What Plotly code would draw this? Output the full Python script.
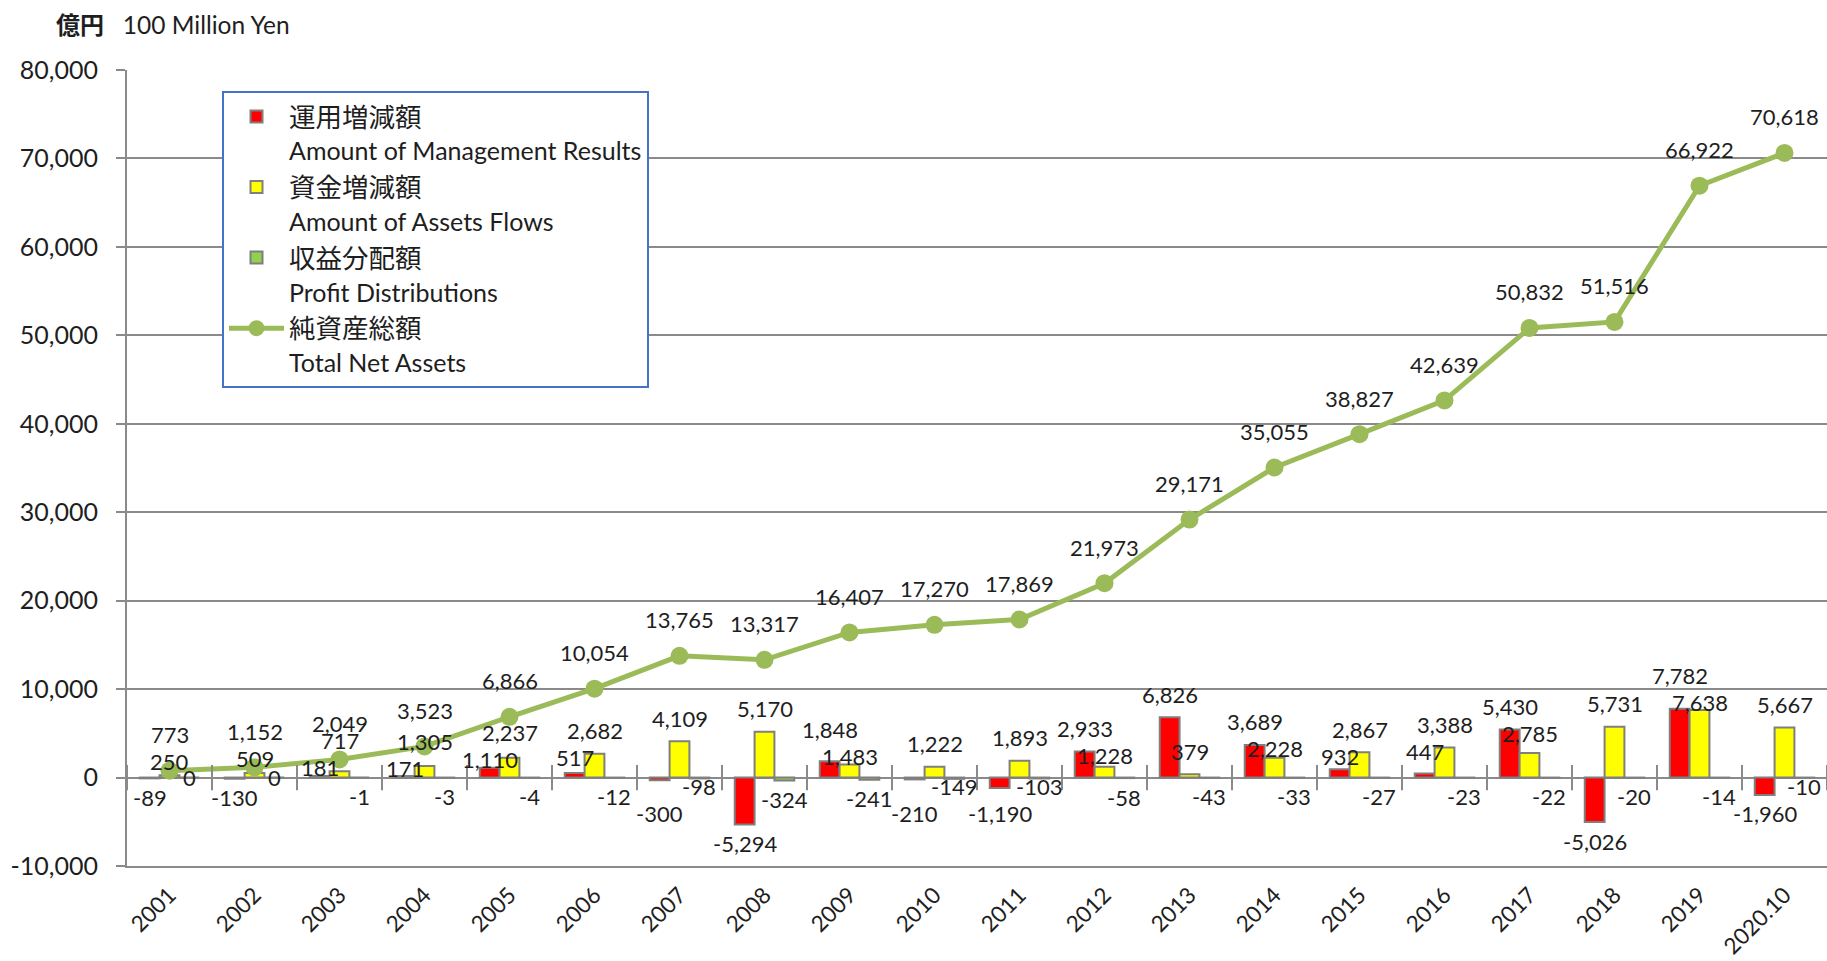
import plotly.graph_objects as go

categories = ["2001", "2002", "2003", "2004", "2005", "2006", "2007", "2008", "2009", "2010",
              "2011", "2012", "2013", "2014", "2015", "2016", "2017", "2018", "2019", "2020.10"]
mgmt_results = [-89, -130, 181, 171, 1110, 517, -300, -5294, 1848, -210,
                -1190, 2933, 6826, 3689, 932, 447, 5430, -5026, 7782, -1960]
asset_flows = [250, 509, 717, 1305, 2237, 2682, 4109, 5170, 1483, 1222,
               1893, 1228, 379, 2228, 2867, 3388, 2785, 5731, 7638, 5667]
profit_dist = [0, 0, -1, -3, -4, -12, -98, -324, -241, -149,
               -103, -58, -43, -33, -27, -23, -22, -20, -14, -10]
total_net_assets = [773, 1152, 2049, 3523, 6866, 10054, 13765, 13317, 16407, 17270,
                    17869, 21973, 29171, 35055, 38827, 42639, 50832, 51516, 66922, 70618]

names_ja = ["運用増減額", "資金増減額", "収益分配額", "純資産総額"]
names_en = ["Amount of Management Results", "Amount of Assets Flows", "Profit Distributions", "Total Net Assets"]

y_ticks = [-10000, 0, 10000, 20000, 30000, 40000, 50000, 60000, 70000, 80000]
y_tick_text = ["-10,000", "0", "10,000", "20,000", "30,000", "40,000", "50,000", "60,000", "70,000", "80,000"]

W, H = 1827, 961
ML, MR, MT, MB = 127, 0, 70, 95
BARGAP = 0.3
GRID = "#8a8a8a"
TXT = "#1e1e1e"
FONT = "Lato, Noto Sans CJK JP, sans-serif"
LABEL_SIZE = 22

bar_colors = ["#FF0000", "#FFFF00", "#92D050"]
line_color = "#9BBB59"

def leg(i):
    return (f"<span style='font-size:26.5px'>{names_ja[i]}</span><br>"
            f"<span style='font-size:25px'>{names_en[i]}</span>")

fig = go.Figure()
bar_series = [mgmt_results, asset_flows, profit_dist]
for i, vals in enumerate(bar_series):
    fig.add_trace(go.Bar(
        x=categories, y=vals, name=leg(i),
        marker=dict(color=bar_colors[i], line=dict(color="#7f7f7f", width=2)),
        hoverinfo="skip",
    ))

fig.add_trace(go.Scatter(
    x=categories, y=total_net_assets, name=leg(3), mode="lines+markers",
    line=dict(color=line_color, width=5),
    marker=dict(color=line_color, size=18),
    hoverinfo="skip",
))

# cross tick marks on the zero line at category boundaries
n = len(categories)
bounds = [k - 0.5 for k in range(n + 1)]
fig.add_trace(go.Scatter(
    x=bounds, y=[0] * len(bounds), xaxis="x2", yaxis="y", mode="markers",
    marker=dict(symbol="line-ns-open", size=18, line=dict(color=GRID, width=2), color=GRID),
    showlegend=False, hoverinfo="skip", cliponaxis=False,
))

# ---- data labels (outside end, nudged apart when they collide) ----
plot_w = W - ML - MR
plot_h = H - MT - MB
px_per_unit = plot_h / (y_ticks[-1] - y_ticks[0])
cat_px = plot_w / n
bar_px = cat_px * (1 - BARGAP) / 3
GAP_POS, GAP_NEG, MIN_GAP, TH, LINE_GAP = 23, 19, 8, 27, 36

def text_w(s):
    return len(s) * LABEL_SIZE * 0.52

annotations = []
for k in range(n):
    labels = []
    for i, vals in enumerate(bar_series):
        v = vals[k]
        end = abs(v) * px_per_unit
        sign = 1 if v > 0 else (-1 if v < 0 else 0)
        dist = end + (GAP_POS if sign > 0 else GAP_NEG) if sign != 0 else 0
        labels.append(dict(v=v, s=f"{v:,}", sign=sign, end=end, dist=dist, dx=(i - 1) * bar_px))
    # keep bar labels under the net-asset label of the same year
    t = total_net_assets[k]
    t_dist = t * px_per_unit + LINE_GAP
    t_s = f"{t:,}"
    for l in labels:
        if l["sign"] > 0 and abs(l["dx"]) < (text_w(l["s"]) + text_w(t_s)) / 2:
            need = TH - (t_dist - l["dist"])
            if need > 0:
                l["dist"] = max(l["end"] + MIN_GAP, l["dist"] - need)
    for sign in (1, -1):
        grp = [l for l in labels if l["sign"] == sign]
        grp.sort(key=lambda l: l["end"])
        for a_i in range(len(grp)):
            for b_i in range(a_i + 1, len(grp)):
                lo, hi = grp[a_i], grp[b_i]
                if abs(lo["dx"] - hi["dx"]) >= (text_w(lo["s"]) + text_w(hi["s"])) / 2:
                    continue
                need = TH - (hi["dist"] - lo["dist"])
                if need > 0:
                    room = lo["dist"] - (lo["end"] + MIN_GAP)
                    mv = max(0, min(need, room))
                    lo["dist"] -= mv
                    hi["dist"] += need - mv
    for l in labels:
        annotations.append(dict(
            x=k, y=l["v"], xref="x2", yref="y", text=l["s"], showarrow=False,
            xshift=l["dx"], yshift=l["sign"] * (l["dist"] - l["end"]),
            yanchor="middle", xanchor="center",
            font=dict(family=FONT, size=LABEL_SIZE, color=TXT),
        ))
    annotations.append(dict(
        x=k, y=t, xref="x2", yref="y", text=t_s, showarrow=False,
        yshift=LINE_GAP, yanchor="middle", xanchor="center",
        font=dict(family=FONT, size=LABEL_SIZE, color=TXT),
    ))

fig.update_layout(
    template="none",
    width=W, height=H,
    margin=dict(l=ML, r=MR, t=MT, b=MB, pad=0),
    paper_bgcolor="white", plot_bgcolor="white",
    font=dict(family=FONT, color=TXT),
    barmode="group", bargap=BARGAP, bargroupgap=0,
    showlegend=True,
    hovermode=False,
    title=dict(
        text="<b><span style='font-size:24px'>億円</span></b>   100 Million Yen",
        xref="container", yref="container", x=56 / W, xanchor="left",
        y=1 - 25 / H, yanchor="middle",
        font=dict(family=FONT, size=24.5, color=TXT),
    ),
    legend=dict(
        x=(222 - ML) / plot_w, y=(H - MB - 91) / plot_h,
        xanchor="left", yanchor="top",
        bgcolor="white", bordercolor="#4472C4", borderwidth=2,
        font=dict(family=FONT, size=26, color=TXT),
        valign="top", itemwidth=55, traceorder="normal",
    ),
    xaxis=dict(
        type="category", range=[-0.5, n - 0.5], showgrid=False,
        showline=True, linecolor=GRID, linewidth=2, ticks="",
        tickangle=-45, tickfont=dict(family=FONT, size=22.5, color=TXT),
        ticklabelstandoff=5, automargin=False,
    ),
    xaxis2=dict(
        overlaying="x", anchor="y", type="linear", range=[-0.5, n - 0.5],
        visible=False, showgrid=False, zeroline=False,
    ),
    yaxis=dict(
        range=[y_ticks[0], y_ticks[-1]], tickmode="array", tickvals=y_ticks, ticktext=y_tick_text,
        showgrid=True, gridcolor=GRID, gridwidth=2,
        zeroline=True, zerolinecolor=GRID, zerolinewidth=2,
        showline=True, linecolor=GRID, linewidth=2,
        ticks="outside", ticklen=9, tickwidth=2, tickcolor=GRID,
        tickfont=dict(family=FONT, size=25, color=TXT),
        ticklabelstandoff=13, automargin=False,
    ),
    annotations=annotations,
)

fig.write_html("out.html", config={"displayModeBar": False},
               post_script="document.body.style.margin='0';document.body.style.overflow='hidden';")
